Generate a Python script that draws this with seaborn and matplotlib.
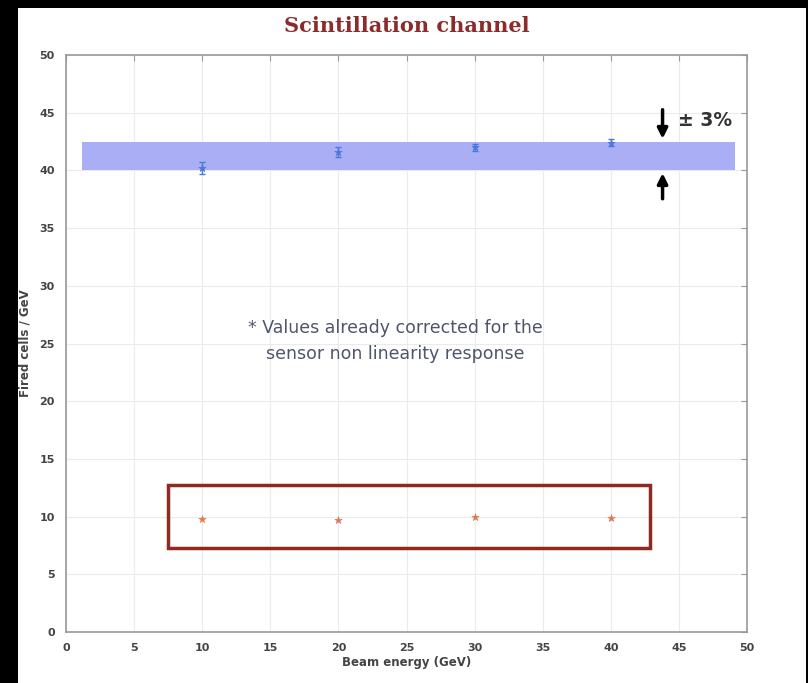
import matplotlib
matplotlib.use("Agg")
import matplotlib.pyplot as plt
import matplotlib.patches as mpatches
import numpy as np
import pandas as pd
import seaborn as sns

# values
energy = [10, 20, 30, 40]
scint_fired = [40.2, 41.6, 42.0, 42.4]
scint_err = [0.5, 0.4, 0.3, 0.3]
cher_fired = [9.8, 9.7, 10.0, 9.9]
band_low, band_high = 40.0, 42.5
band_x = [1.2, 49.1]
box_x = [7.5, 42.9]
box_y = [7.3, 12.7]

df = pd.DataFrame({'energy': energy, 'scint': scint_fired, 'cher': cher_fired})

sns.set_style("white")
fig = plt.figure(figsize=(8.08, 6.83), dpi=100, facecolor='black')
fig.patches.append(mpatches.Rectangle((18 / 808, 0), 788 / 808, 675 / 683,
                                      transform=fig.transFigure, facecolor='white',
                                      edgecolor='none', zorder=-10))
ax = fig.add_axes([66 / 808, 1 - 632 / 683, 681 / 808, 577 / 683])
ax.set_zorder(1)

ax.fill_between(band_x, band_low, band_high, color='#aaaef5', lw=0, zorder=1)
ax.errorbar(df['energy'], df['scint'], yerr=scint_err, fmt='none',
            ecolor='#4a78dc', elinewidth=1, capsize=2, zorder=3)
sns.scatterplot(data=df, x='energy', y='scint', marker='*', s=30,
                color='#4a78dc', edgecolor='#4a78dc', ax=ax, zorder=4)
sns.scatterplot(data=df, x='energy', y='cher', marker='*', s=30,
                color='#e07a55', edgecolor='#e07a55', ax=ax, zorder=4)

ax.add_patch(mpatches.Rectangle((box_x[0], box_y[0]), box_x[1] - box_x[0],
                                box_y[1] - box_y[0], fill=False,
                                edgecolor='#8e2a22', lw=2.5, zorder=5))

# +-3% arrows
ax.annotate('', xy=(43.8, band_high), xytext=(43.8, 45.5),
            arrowprops=dict(arrowstyle='-|>', color='black', lw=2.5, mutation_scale=15))
ax.annotate('', xy=(43.8, band_low), xytext=(43.8, 37.3),
            arrowprops=dict(arrowstyle='-|>', color='black', lw=2.5, mutation_scale=15))
ax.text(44.9, 44.3, '± 3%', fontsize=13.5, fontweight='bold', color='#333333',
        va='center', ha='left')

ax.text(24.2, 25.2, '* Values already corrected for the\nsensor non linearity response',
        fontsize=12.5, color='#4f566a', ha='center', va='center', linespacing=1.55)

ax.set_xlim(0, 50)
ax.set_ylim(0, 50)
ax.set_xticks(np.arange(0, 51, 5))
ax.set_yticks(np.arange(0, 51, 5))
ax.grid(True, color='#ebebeb', lw=0.8)
ax.set_axisbelow(True)
for s in ax.spines.values():
    s.set_color('#999999')
    s.set_linewidth(1.2)
ax.tick_params(direction='in', length=4, color='#999999', labelsize=8,
               labelcolor='#444444', top=True, right=True, pad=8)
for lab in ax.get_xticklabels() + ax.get_yticklabels():
    lab.set_fontweight('bold')
ax.set_xlabel('Beam energy (GeV)', fontsize=8.5, fontweight='bold', color='#444444', labelpad=2)
ax.set_ylabel('Fired cells / GeV', fontsize=8.5, fontweight='bold', color='#444444', labelpad=6)

fig.text(407 / 808, 1 - 26 / 683, 'Scintillation channel', fontsize=15,
         family='DejaVu Serif', fontweight='bold', color='#8b2b2b',
         ha='center', va='center')

fig.savefig('out.png', dpi=100, facecolor='black')
